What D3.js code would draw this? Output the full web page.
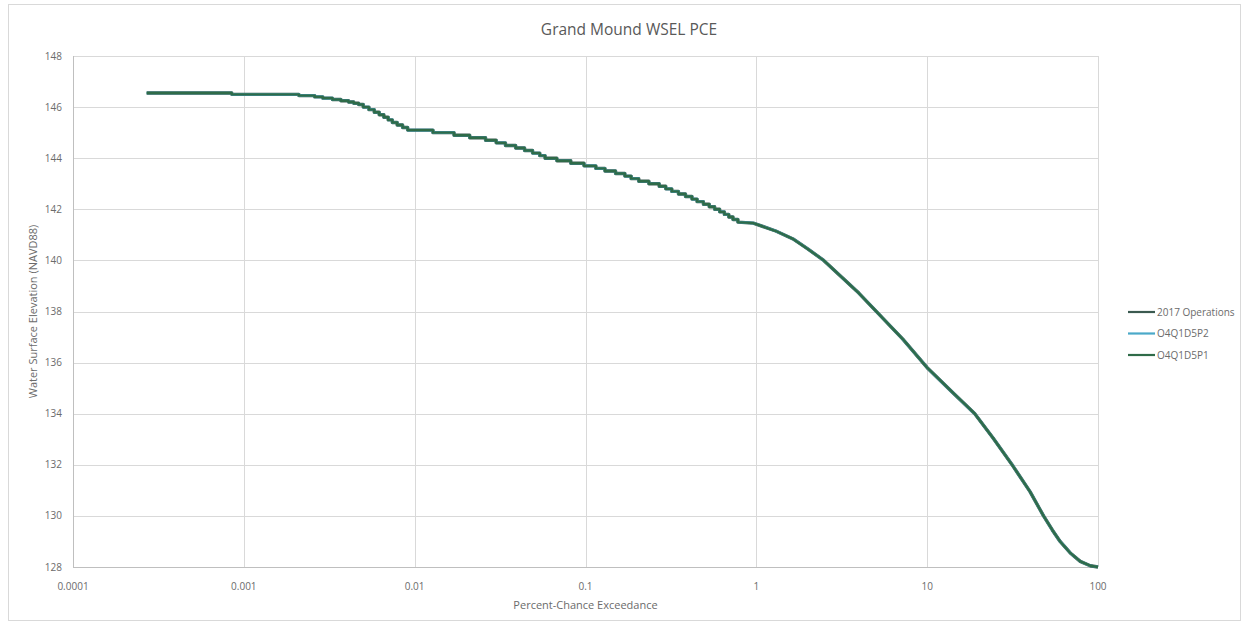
<!DOCTYPE html>
<html>
<head>
<meta charset="utf-8">
<script src="https://cdn.jsdelivr.net/npm/d3@7"></script>
<style>
  html, body { margin: 0; padding: 0; background: #fff; }
  svg { display: block; font-family: "Open Sans", "Noto Sans", sans-serif; }
</style>
</head>
<body>
<svg id="chart" width="1249" height="625"></svg>
<script>
// Percent-chance exceedance (x) and water surface elevation in ft NAVD88 (y).
// Rare-event tail: stage levels with the exceedance at which each level begins.
const tailPct  = [0.00027, 0.00085, 0.0021, 0.0026, 0.0029, 0.0033, 0.0037, 0.0041, 0.0044, 0.0047,
                  0.0050, 0.0054, 0.0058, 0.0062, 0.0066, 0.0070, 0.0074, 0.0079, 0.0085, 0.0091,
                  0.0128, 0.017, 0.021, 0.026, 0.030, 0.034, 0.039, 0.044, 0.049, 0.054,
                  0.058, 0.068, 0.082, 0.098, 0.115, 0.13, 0.15, 0.17, 0.185, 0.205,
                  0.235, 0.27, 0.295, 0.32, 0.35, 0.385, 0.42, 0.45, 0.49, 0.53,
                  0.57, 0.61, 0.65, 0.69, 0.73, 0.78];
const tailWsel = [146.55, 146.5, 146.45, 146.4, 146.35, 146.3, 146.25, 146.2, 146.15, 146.1,
                  146.0, 145.9, 145.8, 145.7, 145.6, 145.5, 145.4, 145.3, 145.2, 145.1,
                  145.0, 144.9, 144.8, 144.7, 144.6, 144.5, 144.4, 144.3, 144.2, 144.1,
                  144.0, 143.9, 143.8, 143.7, 143.6, 143.5, 143.4, 143.3, 143.2, 143.1,
                  143.0, 142.9, 142.8, 142.7, 142.6, 142.5, 142.4, 142.3, 142.2, 142.1,
                  142.0, 141.9, 141.8, 141.7, 141.6, 141.5];
// Frequent-event body of the curve.
const bodyPct  = [0.78, 0.96, 1.3, 1.64, 2.0, 2.48, 3.98, 7.2, 10, 14, 19, 24.3, 31.8,
                  40, 48, 54, 60, 68.8, 78.7, 90, 100];
const bodyWsel = [141.5, 141.46, 141.15, 140.84, 140.45, 140.0, 138.72, 136.92, 135.8,
                  134.85, 134.0, 133.05, 131.95, 130.95, 130.0, 129.45, 129.0, 128.55, 128.22, 128.05, 128.0];

const seriesNames  = ["2017 Operations", "O4Q1D5P2", "O4Q1D5P1"];
const seriesColors = ["#3b5a50", "#4aa9c9", "#2f6b48"];
const seriesWidths = [3.4, 2.6, 2.4];

const xTickValues = [0.0001, 0.001, 0.01, 0.1, 1, 10, 100];
const xTickLabels = ["0.0001", "0.001", "0.01", "0.1", "1", "10", "100"];
const yTickValues = [128, 130, 132, 134, 136, 138, 140, 142, 144, 146, 148];

const svg = d3.select("#chart");
const m = { left: 73, right: 1098, top: 56, bottom: 567 };

const x = d3.scaleLog().domain([0.0001, 100]).range([m.left, m.right]);
const y = d3.scaleLinear().domain([128, 148]).range([m.bottom, m.top]);

// chart frame
svg.append("rect")
  .attr("x", 8.5).attr("y", 4.5).attr("width", 1232).attr("height", 616)
  .attr("fill", "#fff").attr("stroke", "#d9d9d9");

// gridlines
svg.append("g").selectAll("line.h").data(yTickValues.slice(1)).join("line")
  .attr("x1", m.left).attr("x2", m.right)
  .attr("y1", d => Math.round(y(d)) + 0.5).attr("y2", d => Math.round(y(d)) + 0.5)
  .attr("stroke", "#d9d9d9").attr("stroke-width", 1);
svg.append("g").selectAll("line.v").data(xTickValues.slice(1)).join("line")
  .attr("x1", d => Math.round(x(d)) + 0.5).attr("x2", d => Math.round(x(d)) + 0.5)
  .attr("y1", m.top).attr("y2", m.bottom)
  .attr("stroke", "#d9d9d9").attr("stroke-width", 1);

// axis lines
svg.append("line").attr("x1", m.left + 0.5).attr("x2", m.left + 0.5)
  .attr("y1", m.top).attr("y2", m.bottom).attr("stroke", "#bfbfbf");
svg.append("line").attr("x1", m.left).attr("x2", m.right)
  .attr("y1", m.bottom + 0.5).attr("y2", m.bottom + 0.5).attr("stroke", "#bfbfbf");

// tick labels
svg.append("g").selectAll("text").data(yTickValues).join("text")
  .attr("x", m.left - 11).attr("y", d => y(d)).attr("dy", "0.35em")
  .attr("text-anchor", "end").attr("font-size", 10).attr("fill", "#6b6b6b")
  .text(d => d);
svg.append("g").selectAll("text").data(xTickValues).join("text")
  .attr("x", d => x(d)).attr("y", m.bottom + 19).attr("dy", "0.35em")
  .attr("text-anchor", "middle").attr("font-size", 10).attr("fill", "#6b6b6b")
  .text((d, i) => xTickLabels[i]);

// titles
svg.append("text").attr("x", 629).attr("y", 30).attr("dy", "0.35em")
  .attr("text-anchor", "middle").attr("font-size", 15.5).attr("fill", "#595959")
  .text("Grand Mound WSEL PCE");
svg.append("text").attr("x", (m.left + m.right) / 2).attr("y", 605).attr("dy", "0.35em")
  .attr("text-anchor", "middle").attr("font-size", 11).attr("fill", "#6b6b6b")
  .text("Percent-Chance Exceedance");
svg.append("text")
  .attr("transform", `translate(33,${(m.top + m.bottom) / 2}) rotate(-90)`)
  .attr("dy", "0.35em").attr("text-anchor", "middle").attr("font-size", 11).attr("fill", "#6b6b6b")
  .text("Water Surface Elevation (NAVD88)");

// curve: stepped tail followed by the body
const tail = tailPct.map((p, i) => [p, tailWsel[i]]);
const body = bodyPct.map((p, i) => [p, bodyWsel[i]]);
const stepLine = d3.line().x(d => x(d[0])).y(d => y(d[1])).curve(d3.curveStepAfter);
const bodyLine = d3.line().x(d => x(d[0])).y(d => y(d[1])).curve(d3.curveLinear);
const pathD = stepLine(tail) + bodyLine(body).replace(/^M/, "L");

seriesNames.forEach((name, i) => {
  svg.append("path")
    .attr("d", pathD)
    .attr("fill", "none")
    .attr("stroke", seriesColors[i])
    .attr("stroke-width", seriesWidths[i])
    .attr("stroke-linejoin", "round");
});

// legend
const legend = svg.append("g");
seriesNames.forEach((name, i) => {
  const ly = 312 + i * 21.5;
  legend.append("line").attr("x1", 1128).attr("x2", 1155).attr("y1", ly).attr("y2", ly)
    .attr("stroke", seriesColors[i]).attr("stroke-width", 2.2);
  legend.append("text").attr("x", 1157).attr("y", ly).attr("dy", "0.35em")
    .attr("font-size", 10).attr("fill", "#6b6b6b").text(name);
});
</script>
</body>
</html>
